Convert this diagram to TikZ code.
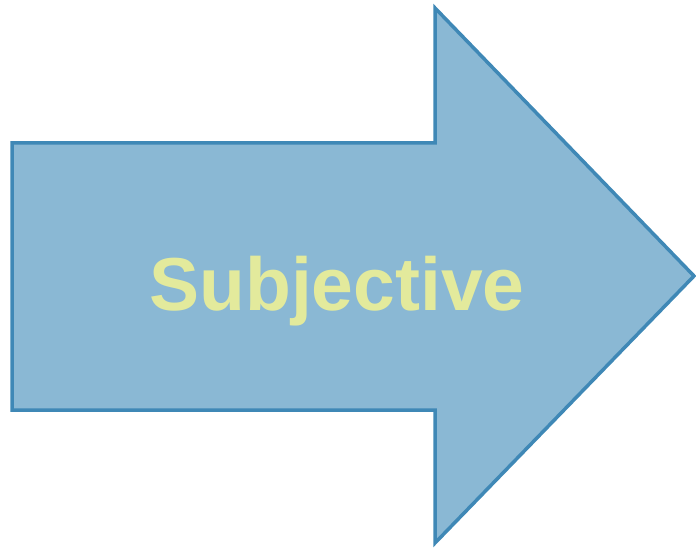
\documentclass[tikz,border=0pt]{standalone}
\usepackage{fontspec}
\setmainfont{Liberation Sans}
\definecolor{arrowfill}{HTML}{8AB8D4}
\definecolor{arrowline}{HTML}{3F88B6}
\definecolor{labeltext}{HTML}{E3EA9C}
\tikzset{
  bigarrow/.style={fill=arrowfill, draw=arrowline, line width=3.5pt, line join=miter},
  arrowlabel/.style={text=labeltext, font=\bfseries\fontsize{75}{78}\selectfont, inner sep=0pt}
}
\begin{document}
\begin{tikzpicture}[x=1pt,y=1pt]
\useasboundingbox (0,0) rectangle (696,547);
\draw[bigarrow] (12,404) -- (435,404) -- (435,539) -- (694,271) -- (435,4) -- (435,137) -- (12,137) -- cycle;
\node[arrowlabel, anchor=base] (lbl) at (337,237) {Subjective};
\end{tikzpicture}
\end{document}
